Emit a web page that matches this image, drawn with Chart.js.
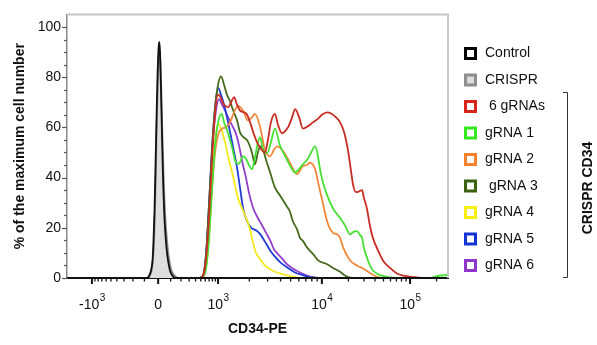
<!DOCTYPE html>
<html>
<head>
<meta charset="utf-8">
<script src="https://cdn.jsdelivr.net/npm/chart.js@4.4.1/dist/chart.umd.min.js"></script>
<style>
  body { margin: 0; background: #fff; }
  canvas { display: block; }
</style>
</head>
<body>
<canvas id="histo" width="597" height="345"></canvas>
<script>
// x = display channel of the biexponential CD34-PE axis (0..1024), y = % of max
const seriesNames = ['Control', 'CRISPR', ' 6 gRNAs', 'gRNA 1', 'gRNA 2', ' gRNA 3', 'gRNA 4', 'gRNA 5', 'gRNA 6'];
const lineColors = ['#111111', '#8c8c8c', '#c92d24', '#45e032', '#f2873a', '#466b1c', '#f4ea1c', '#1f3cd4', '#9240cc'];
const boxColors  = ['#000000', '#8e8e8e', '#d8251a', '#33e81f', '#f5812a', '#3a620f', '#f7ef10', '#1432d6', '#8d37cc'];
const boxFills   = ['#ffffff', '#dcdcdc', '#ffffff', '#ffffff', '#ffffff', '#ffffff', '#ffffff', '#ffffff', '#ffffff'];

const controlX = [0, 215, 220.4, 225.8, 229.8, 232.5, 235.2, 237.9, 240.5, 243.2, 245.9, 247.8, 250, 252.6, 255.3, 258, 260.7, 263.4, 267.4, 271.5, 276.8, 282.2, 290.2, 1024];
const controlY = [0, 0, 0.8, 3, 7, 15, 27, 45, 63, 80, 91, 94, 90, 75, 57, 40, 28, 20, 12, 7, 3, 1.2, 0, 0];

const crisprX = [0, 217.7, 223.1, 228.5, 232.5, 235.2, 237.9, 240.5, 243.2, 245.9, 248.6, 251.3, 254, 256.7, 259.4, 262, 266.1, 271.5, 276.8, 282.2, 290.2, 298.3, 1024];
const crisprY = [0, 0, 1, 4, 10, 20, 36, 55, 73, 86, 91, 86, 72, 56, 42, 31, 20, 11, 5.5, 2.5, 0.8, 0, 0];

const allGuidesX = [0, 357, 366, 374, 382, 390, 398, 406, 411, 422, 433, 441, 449, 457, 465, 476, 484, 492, 503, 511, 521, 532, 540, 548, 559, 567, 578, 586, 594, 605, 613, 624, 634, 648, 661, 675, 685, 699, 710, 723, 734, 745, 755, 763, 769, 777, 785, 793, 798, 806, 814, 822, 836, 849, 868, 887, 908, 935, 962, 1024];
const allGuidesY = [0, 0, 1, 8, 25, 48, 66, 73, 72.5, 69, 68, 70, 72, 69, 66.7, 66, 65, 62, 57, 54, 51.5, 50, 55, 62, 65.4, 61, 57.6, 58.5, 60, 64, 67.3, 64, 59.5, 60.5, 62, 63.5, 65, 66, 65.5, 64, 62, 58, 51, 43, 37, 34.2, 34.5, 35, 32, 27.7, 21, 16, 11, 7, 4, 1.8, 0.8, 0.3, 0, 0];

const guide1X = [0, 357, 366, 374, 382, 390, 398, 406, 416, 422, 430, 443, 454, 462, 473, 481, 489, 497, 505, 513, 519, 527, 538, 548, 559, 572, 591, 602, 613, 624, 634, 645, 653, 667, 675, 680, 688, 699, 715, 734, 747, 761, 771, 779, 788, 793, 798, 806, 814, 822, 836, 849, 882, 976, 997, 1024];
const guide1Y = [0, 0, 0.5, 4, 16, 36, 53, 62, 65.4, 62, 59, 52.4, 46, 45.5, 48.5, 47.5, 45, 43.3, 48, 54, 56, 51, 49.8, 54, 59.5, 53, 47.2, 44, 42, 43.5, 45.3, 47, 49.1, 52.4, 48, 43.3, 38, 33, 27.7, 23.9, 21, 17.4, 18.5, 18.7, 17, 16, 12, 8.3, 5, 3.1, 1.5, 0.8, 0, 0, 0.8, 1.2];

const guide2X = [0, 357, 366, 374, 382, 390, 398, 406, 417, 427, 438, 449, 460, 473, 486, 497, 505, 519, 532, 546, 556, 564, 581, 599, 618, 634, 645, 653, 667, 675, 685, 699, 715, 726, 734, 742, 761, 779, 796, 814, 833, 855, 1024];
const guide2Y = [0, 0, 0.5, 5, 18, 36, 50, 57, 59.5, 60, 62, 66, 68.6, 66.7, 62.8, 64, 65.4, 60.2, 51, 48.5, 51, 52.4, 50.5, 45.9, 41.4, 44.6, 45, 45.9, 43.3, 38, 31.6, 22.6, 18, 17.4, 16, 12.2, 7, 5, 3.8, 2, 0.5, 0, 0];

const guide3X = [0, 357, 366, 374, 382, 390, 398, 406, 414, 422, 430, 438, 446, 457, 465, 473, 486, 497, 505, 513, 519, 527, 535, 546, 559, 572, 589, 599, 607, 618, 626, 634, 645, 661, 675, 699, 715, 734, 747, 766, 1024];
const guide3Y = [0, 0, 1, 10, 30, 52, 68, 77, 80.3, 77, 73, 70.5, 67, 62.8, 58, 56.3, 54.4, 50, 45.3, 50, 52.4, 51, 47, 42, 36, 33, 29, 26.5, 22.6, 19.5, 16, 14.8, 12.2, 9.6, 7, 5.5, 4, 2.5, 1, 0, 0];

const guide4X = [0, 357, 366, 374, 382, 390, 398, 406, 414, 425, 433, 446, 460, 470, 478, 492, 500, 508, 519, 532, 546, 559, 572, 591, 613, 626, 1024];
const guide4Y = [0, 0, 0.5, 5, 18, 38, 54, 61.5, 59.5, 54, 48.5, 40.7, 31.6, 28, 25.2, 19.3, 14, 10, 7.5, 5, 3.5, 2.5, 1.8, 1, 0.3, 0, 0];

const guide5X = [0, 357, 366, 374, 382, 390, 398, 406, 414, 422, 433, 446, 457, 465, 473, 484, 495, 508, 519, 532, 546, 559, 575, 594, 613, 632, 653, 667, 1024];
const guide5Y = [0, 0, 1, 10, 30, 52, 68, 75.7, 73, 69, 62, 52.4, 44, 36, 28, 22.6, 20, 19, 17.5, 14.5, 11, 8.5, 6, 4, 2.2, 1.2, 0.3, 0, 0];

const guide6X = [0, 357, 366, 374, 382, 390, 398, 409, 417, 425, 433, 443, 454, 462, 473, 481, 489, 500, 513, 524, 535, 546, 556, 567, 578, 591, 607, 626, 645, 661, 675, 1024];
const guide6Y = [0, 0, 1, 9, 28, 50, 64, 71.2, 69, 66.7, 64, 61, 57.5, 53, 45, 40, 34, 28, 23.9, 21, 18, 15, 11.5, 9.5, 7.8, 5.5, 3.8, 2.2, 1, 0.3, 0, 0];

// axis ticks
const xTickChannels = [67, 245, 406, 685, 922];   // -10^3, 0, 10^3, 10^4, 10^5
const xTickBases = ['-10', '0', '10', '10', '10'];
const xTickExps = ['3', '', '3', '4', '5'];
const yTicks = [0, 20, 40, 60, 80, 100];

const seriesX = [controlX, crisprX, allGuidesX, guide1X, guide2X, guide3X, guide4X, guide5X, guide6X];
const seriesY = [controlY, crisprY, allGuidesY, guide1Y, guide2Y, guide3Y, guide4Y, guide5Y, guide6Y];

const FONT = '"Liberation Sans", Arial, Helvetica, sans-serif';

function minorChannels() {
    const [neg, zero, k3, k4, k5] = xTickChannels;
    const out = [];
    const c = 200, s = Math.asinh(1000 / c);
    for (let k = 1; k <= 9; k++) {
        const f = Math.asinh(k * 100 / c) / s;
        out.push(zero + f * (k3 - zero));
        out.push(zero - f * (zero - neg));
    }
    for (let k = 2; k <= 9; k++) {
        const f = Math.log10(k);
        out.push(k3 + f * (k4 - k3));
        out.push(k4 + f * (k5 - k4));
        out.push(k5 + f * (k5 - k4));
    }
    return out.filter(v => v > 0 && v < 1024);
}

const decor = {
    id: 'decor',
    afterDraw(chart) {
        const {ctx, chartArea: a, scales: {x, y}} = chart;
        ctx.save();

        // light frame on top and right
        ctx.strokeStyle = '#c6c6c6';
        ctx.lineWidth = 2;
        ctx.beginPath();
        ctx.moveTo(a.left, a.top);
        ctx.lineTo(a.right, a.top);
        ctx.lineTo(a.right, a.bottom);
        ctx.stroke();

        // y tick marks
        ctx.strokeStyle = '#555';
        ctx.lineWidth = 1.2;
        for (let v = 0; v <= 100; v += 5) {
            const py = Math.round(y.getPixelForValue(v)) + 0.5;
            const len = v % 20 === 0 ? 5 : 3;
            ctx.beginPath();
            ctx.moveTo(a.left - len, py);
            ctx.lineTo(a.left, py);
            ctx.stroke();
        }

        // x tick marks
        ctx.strokeStyle = '#111';
        ctx.lineWidth = 2;
        xTickChannels.forEach(v => {
            const px = x.getPixelForValue(v);
            ctx.beginPath();
            ctx.moveTo(px, a.bottom);
            ctx.lineTo(px, a.bottom + 6);
            ctx.stroke();
        });
        ctx.lineWidth = 1.3;
        minorChannels().forEach(v => {
            const px = x.getPixelForValue(v);
            ctx.beginPath();
            ctx.moveTo(px, a.bottom);
            ctx.lineTo(px, a.bottom + 3.5);
            ctx.stroke();
        });

        // x tick labels with raised exponents
        ctx.fillStyle = '#111';
        ctx.textBaseline = 'alphabetic';
        ctx.textAlign = 'left';
        const baseFont = '14px ' + FONT, expFont = '10px ' + FONT;
        xTickChannels.forEach((v, i) => {
            ctx.font = baseFont;
            const wb = ctx.measureText(xTickBases[i]).width;
            ctx.font = expFont;
            const we = xTickExps[i] ? ctx.measureText(xTickExps[i]).width : 0;
            const x0 = x.getPixelForValue(v) - (wb + we) / 2;
            ctx.font = baseFont;
            ctx.fillText(xTickBases[i], x0, a.bottom + 31);
            if (xTickExps[i]) {
                ctx.font = expFont;
                ctx.fillText(xTickExps[i], x0 + wb + 0.5, a.bottom + 23);
            }
        });

        // legend
        ctx.font = '14px ' + FONT;
        ctx.textBaseline = 'middle';
        chart.data.datasets.forEach((ds, i) => {
            const cy = 53.5 + i * 26.5;
            ctx.fillStyle = boxColors[i];
            ctx.fillRect(464, cy - 6.5, 13, 13);
            ctx.fillStyle = boxFills[i];
            ctx.fillRect(467, cy - 3.5, 7, 7);
            ctx.fillStyle = '#111';
            ctx.fillText(ds.label, 485, cy);
        });

        // bracket + group label
        ctx.strokeStyle = '#333';
        ctx.lineWidth = 1;
        ctx.beginPath();
        ctx.moveTo(563, 92.5);
        ctx.lineTo(567.5, 92.5);
        ctx.lineTo(567.5, 277.5);
        ctx.lineTo(563, 277.5);
        ctx.stroke();

        ctx.translate(588, 188);
        ctx.rotate(-Math.PI / 2);
        ctx.font = 'bold 14px ' + FONT;
        ctx.textAlign = 'center';
        ctx.fillStyle = '#111';
        ctx.fillText('CRISPR CD34', 0, 0);
        ctx.restore();
    }
};

const datasets = seriesNames.map((name, i) => ({
    label: name,
    data: seriesX[i].map((v, j) => ({ x: v, y: seriesY[i][j] })),
    borderColor: lineColors[i],
    backgroundColor: i === 1 ? '#dedede' : boxFills[i],
    borderWidth: 1.8,
    fill: i === 1 ? 'origin' : false,
    pointRadius: 0,
    cubicInterpolationMode: 'monotone',
    borderJoinStyle: 'round'
}));

new Chart(document.getElementById('histo'), {
    type: 'line',
    data: { datasets },
    options: {
        responsive: false,
        animation: false,
        layout: { padding: { top: 9, right: 149, bottom: 0, left: 0 } },
        plugins: { legend: { display: false }, tooltip: { enabled: false } },
        scales: {
            x: {
                type: 'linear',
                min: 0,
                max: 1024,
                z: 1,
                afterBuildTicks: s => { s.ticks = xTickChannels.map(v => ({ value: v })); },
                afterFit: s => { s.height = 67; },
                grid: { display: false, drawTicks: false },
                border: { display: true, color: '#111', width: 2 },
                ticks: { display: false },
                title: {
                    display: true,
                    text: 'CD34-PE',
                    color: '#111',
                    font: { family: FONT, size: 14, weight: 'bold' },
                    padding: { top: 6, bottom: 7 }
                }
            },
            y: {
                min: 0,
                max: 105,
                z: 1,
                afterBuildTicks: s => { s.ticks = yTicks.map(v => ({ value: v })); },
                afterFit: s => { s.width = 67; },
                grid: { display: false, drawTicks: false },
                border: { display: true, color: '#8a8a8a', width: 1.5 },
                ticks: {
                    padding: 6,
                    color: '#111',
                    font: { family: FONT, size: 14 }
                },
                title: {
                    display: true,
                    text: '% of the maximum cell number',
                    color: '#111',
                    font: { family: FONT, size: 14, weight: 'bold' },
                    padding: { top: 12, bottom: 0 }
                }
            }
        }
    },
    plugins: [decor]
});
</script>
</body>
</html>
